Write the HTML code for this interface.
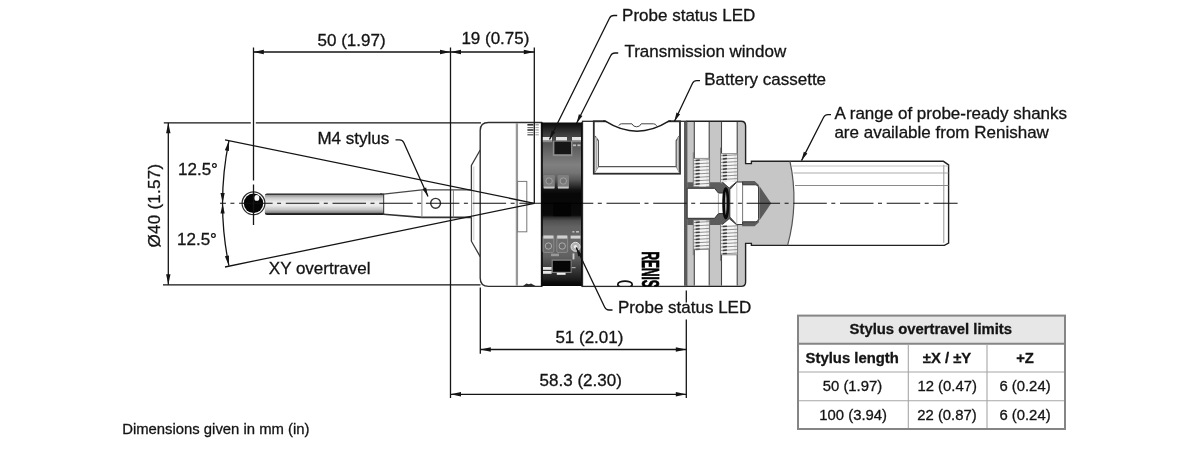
<!DOCTYPE html>
<html lang="en"><head><meta charset="utf-8"><title>Probe dimensions</title>
<style>
html,body{margin:0;padding:0;background:#fff;overflow:hidden}
svg{display:block;filter:blur(0.35px)}
text{font-family:"Liberation Sans",sans-serif;fill:#141414;stroke:#141414;stroke-width:0.3px}
</style></head>
<body>
<svg width="1200" height="456" viewBox="0 0 1200 456">
<rect width="1200" height="456" fill="#fff"/>
<defs>
<linearGradient id="gShaft" x1="0" y1="0" x2="0" y2="1">
 <stop offset="0" stop-color="#1e1e1e"/><stop offset="0.045" stop-color="#333"/><stop offset="0.085" stop-color="#9c9c9c"/><stop offset="0.22" stop-color="#cecece"/>
 <stop offset="0.4" stop-color="#ececec"/><stop offset="0.56" stop-color="#eaeaea"/><stop offset="0.75" stop-color="#c2c2c2"/><stop offset="0.88" stop-color="#8c8c8c"/><stop offset="0.925" stop-color="#2e2e2e"/><stop offset="1" stop-color="#181818"/>
</linearGradient>
<linearGradient id="gBand" x1="0" y1="0" x2="0" y2="1">
<stop offset="0.0000" stop-color="#0a0a0a"/><stop offset="0.0275" stop-color="#1c1c1c"/><stop offset="0.0702" stop-color="#3c3c3c"/><stop offset="0.1129" stop-color="#505050"/><stop offset="0.2044" stop-color="#6e6e6e"/><stop offset="0.2593" stop-color="#808080"/><stop offset="0.3081" stop-color="#747474"/><stop offset="0.3508" stop-color="#565656"/><stop offset="0.3874" stop-color="#2e2e2e"/><stop offset="0.4118" stop-color="#121212"/><stop offset="0.4362" stop-color="#070707"/><stop offset="0.5674" stop-color="#0a0a0a"/><stop offset="0.5796" stop-color="#2c2c2c"/><stop offset="0.6010" stop-color="#505050"/><stop offset="0.6376" stop-color="#626262"/><stop offset="0.7474" stop-color="#6a6a6a"/><stop offset="0.8206" stop-color="#606060"/><stop offset="0.8633" stop-color="#4c4c4c"/><stop offset="0.9121" stop-color="#323232"/><stop offset="0.9549" stop-color="#1e1e1e"/><stop offset="0.9793" stop-color="#0c0c0c"/><stop offset="1.0000" stop-color="#050505"/>
</linearGradient>
<clipPath id="cBody"><rect x="470" y="120" width="280" height="166.6"/></clipPath>
</defs>
<path d="M480.2,150 L471.4,165.4 V241.2 L480.2,256.6" fill="#fff" stroke="#3a3a3a" stroke-width="1.3"/>
<path d="M488.4,122.5 H541.5 V286.4 H488.7 Q480.2,286.4 480.2,277.9 V130.6 Q480.2,122.5 488.4,122.5 Z" fill="#fff" stroke="#303030" stroke-width="1.4"/>
<path d="M473.8,166.4 V240.2" fill="none" stroke="#bcbcbc" stroke-width="0.8"/>
<line x1="516.9" y1="123.1" x2="516.9" y2="285.79999999999995" stroke="#999" stroke-width="2.3" />
<rect x="517.6" y="181.4" width="9.2" height="50.4" fill="#fff" stroke="#777" stroke-width="1"/>
<line x1="527.4" y1="124.8" x2="533.4" y2="124.8" stroke="#333" stroke-width="1.7" />
<line x1="535.4" y1="124.8" x2="538.8" y2="124.8" stroke="#9a9a9a" stroke-width="1.36" />
<line x1="527.4" y1="127.6" x2="533.4" y2="127.6" stroke="#666" stroke-width="1.1" />
<line x1="535.4" y1="127.6" x2="538.8" y2="127.6" stroke="#9a9a9a" stroke-width="0.8800000000000001" />
<line x1="527.4" y1="130.0" x2="533.4" y2="130.0" stroke="#262626" stroke-width="1.5" />
<line x1="535.4" y1="130.0" x2="538.8" y2="130.0" stroke="#9a9a9a" stroke-width="1.2000000000000002" />
<line x1="527.4" y1="132.6" x2="533.4" y2="132.6" stroke="#8c8c8c" stroke-width="1.0" />
<line x1="535.4" y1="132.6" x2="538.8" y2="132.6" stroke="#9a9a9a" stroke-width="0.8" />
<line x1="527.4" y1="134.8" x2="533.4" y2="134.8" stroke="#555" stroke-width="1.3" />
<line x1="535.4" y1="134.8" x2="538.8" y2="134.8" stroke="#9a9a9a" stroke-width="1.04" />
<path d="M523,286.09999999999997 L526.4,283.4 L529,284.2 L531,283.59999999999997 L535.6,286.09999999999997 Z" fill="#2a2a2a"/>
<rect x="541.3" y="122.5" width="41.2" height="163.49999999999997" fill="url(#gBand)"/>
<line x1="542" y1="122.5" x2="542" y2="286.4" stroke="#0a0a0a" stroke-width="1.6" />
<line x1="581.8" y1="122.5" x2="581.8" y2="286.4" stroke="#0a0a0a" stroke-width="1.6" />
<rect x="542.8" y="137" width="9.200000000000045" height="3.6" fill="#e4e4e4"/>
<rect x="542.8" y="140.6" width="9.200000000000045" height="1.6" fill="#8a8a8a"/>
<rect x="556" y="137" width="11" height="3.6" fill="#e4e4e4"/>
<rect x="556" y="140.6" width="11" height="1.6" fill="#8a8a8a"/>
<rect x="572" y="137" width="9" height="3.6" fill="#e4e4e4"/>
<rect x="572" y="140.6" width="9" height="1.6" fill="#8a8a8a"/>
<rect x="552.8" y="140.8" width="19.6" height="15.4" fill="#8c8c8c"/>
<rect x="554.4" y="141.6" width="16.6" height="12.6" fill="#161616"/>
<rect x="573" y="144.4" width="3" height="1.8" fill="#bbb"/><rect x="577.4" y="144.4" width="3" height="1.8" fill="#bbb"/>
<rect x="543.4" y="175" width="11.4" height="13.4" rx="1.2" fill="#7e7e7e"/>
<circle cx="549.1" cy="181" r="3.2" fill="#747474" stroke="#a4a4a4" stroke-width="0.9"/>
<rect x="543.8" y="186.6" width="10.6" height="1.8" fill="#c6c6c6"/>
<rect x="557.6" y="175" width="11.4" height="13.4" rx="1.2" fill="#7e7e7e"/>
<circle cx="563.3000000000001" cy="181" r="3.2" fill="#747474" stroke="#a4a4a4" stroke-width="0.9"/>
<rect x="558.0" y="186.6" width="10.6" height="1.8" fill="#c6c6c6"/>
<rect x="553.4" y="202.8" width="17.4" height="13.4" fill="#030303"/>
<rect x="543" y="235.6" width="10.8" height="16.8" rx="1.2" fill="#6c6c6c" stroke="#9a9a9a" stroke-width="0.7"/>
<rect x="543.4" y="235.6" width="10" height="3" fill="#d0d0d0"/>
<circle cx="548.4" cy="246" r="3.2" fill="#6a6a6a" stroke="#b4b4b4" stroke-width="0.9"/>
<rect x="556.8" y="235.6" width="10.8" height="16.8" rx="1.2" fill="#6c6c6c" stroke="#9a9a9a" stroke-width="0.7"/>
<rect x="557.1999999999999" y="235.6" width="10" height="3" fill="#d0d0d0"/>
<circle cx="562.1999999999999" cy="246" r="3.2" fill="#6a6a6a" stroke="#b4b4b4" stroke-width="0.9"/>
<rect x="570.6" y="235.6" width="9.8" height="3" fill="#d4d4d4"/>
<rect x="572.4" y="231" width="2" height="1.6" fill="#bbb"/><rect x="576" y="231" width="3" height="1.6" fill="#bbb"/>
<circle cx="575.5" cy="246.8" r="4.5" fill="#b0b0b0" stroke="#e2e2e2" stroke-width="1"/>
<circle cx="575.5" cy="246.8" r="1.8" fill="#ececec"/>
<rect x="551" y="253.6" width="8" height="2.6" fill="#999"/>
<rect x="572.6" y="253.4" width="1.8" height="6" fill="#d0d0d0"/><rect x="571.6" y="267" width="4" height="1.2" fill="#aaa"/>
<rect x="551.6" y="259.4" width="20" height="13.6" fill="#808080"/>
<rect x="552.8" y="260.8" width="17.8" height="11" fill="#060606"/>
<rect x="543" y="267" width="8.6" height="2.8" fill="#e6e6e6"/><rect x="543" y="271" width="8.6" height="2.8" fill="#e6e6e6"/>
<rect x="556.8" y="272.8" width="8.8" height="2" fill="#f2f2f2"/>
<rect x="582.5" y="121.3" width="104" height="165.09999999999997" fill="#fff" stroke="#2a2a2a" stroke-width="1.3"/>
<rect x="593.8" y="121.3" width="86.2" height="52.4" fill="#fff" stroke="#2c2c2c" stroke-width="1.8"/>
<path d="M595,136 L598.4,140.8 V166.7 H676.2 V140.8 L679.2,136" fill="none" stroke="#555" stroke-width="1.25"/>
<path d="M594.5,173 L598.4,166.7 M679.5,173 L676.2,166.7" fill="none" stroke="#777" stroke-width="0.9"/>
<line x1="596.2" y1="137" x2="596.2" y2="170" stroke="#aaa" stroke-width="1.6" />
<line x1="678.2" y1="137" x2="678.2" y2="170" stroke="#aaa" stroke-width="1.6" />
<path d="M605.5,120.1 H668.5 V121.3 Q637,141.4 605.5,121.3 Z" fill="#fff"/>
<path d="M603,121.3 H605.8 Q637,141 668.3,121.3 H671" fill="none" stroke="#1a1a1a" stroke-width="1.5"/>
<path d="M618.8,125.6 Q619.6,123.8 621.5,123.8 H632 Q633.2,126.8 636.6,126.8 Q640,126.8 641.2,123.8 H653.5 Q655.6,123.8 656.6,125.8" fill="none" stroke="#444" stroke-width="1"/>
<g clip-path="url(#cBody)"><text transform="translate(642.0,251.4) rotate(90) scale(0.487,1)" font-size="24.4" font-weight="bold" style="fill:#000;stroke:#000;stroke-width:0.7px">RENIS</text>
<ellipse cx="625" cy="284.4" rx="7.2" ry="3.3" fill="none" stroke="#111" stroke-width="1.7"/></g>
<path d="M786,161.3 H948.6 V245.4 H786 Z" fill="#fff"/>
<path d="M686.3,121.3 H741 Q745.6,121.3 745.6,126 V163.6 H751.4 V161.3 H790 Q799,203.3 787.6,245.4 H751.4 V243.4 H745.6 V281.9 Q745.6,286.4 741,286.4 H686.3 Z" fill="#c6c6c6"/>
<rect x="684" y="121.89999999999999" width="3.4" height="163.89999999999998" fill="#5a5a5a"/>
<path d="M687.2,182.2 H742.2 V180.9 H754.6 L758.9,185 V222.2 L754.6,226.3 H742.2 V225 H687.2 Z" fill="#5c5c5c"/>
<rect x="694.3" y="122.1" width="14.900000000000091" height="60.5" fill="#fff"/>
<line x1="694.3" y1="122.1" x2="694.3" y2="182.6" stroke="#454545" stroke-width="1.1" />
<line x1="709.2" y1="122.1" x2="709.2" y2="182.6" stroke="#454545" stroke-width="1.1" />
<rect x="694.3" y="224.6" width="14.900000000000091" height="60.99999999999997" fill="#fff"/>
<line x1="694.3" y1="224.6" x2="694.3" y2="285.59999999999997" stroke="#454545" stroke-width="1.1" />
<line x1="709.2" y1="224.6" x2="709.2" y2="285.59999999999997" stroke="#454545" stroke-width="1.1" />
<rect x="693.3" y="158.4" width="16.30000000000009" height="28.0" fill="#e9e9e9"/>
<rect x="699.3" y="158.4" width="6.900000000000091" height="28.0" fill="#f6f6f6"/>
<path d="M693.6999999999999,160.50 L709.4000000000001,159.60" stroke="#8c8c8c" stroke-width="0.95" fill="none"/>
<path d="M695.6999999999999,160.40 L699.6999999999999,160.00" stroke="#3c3c3c" stroke-width="1.5" fill="none"/>
<path d="M693.6999999999999,163.90 L709.4000000000001,163.00" stroke="#8c8c8c" stroke-width="0.95" fill="none"/>
<path d="M695.6999999999999,163.80 L699.6999999999999,163.40" stroke="#3c3c3c" stroke-width="1.5" fill="none"/>
<path d="M693.6999999999999,167.30 L709.4000000000001,166.40" stroke="#8c8c8c" stroke-width="0.95" fill="none"/>
<path d="M695.6999999999999,167.20 L699.6999999999999,166.80" stroke="#3c3c3c" stroke-width="1.5" fill="none"/>
<path d="M693.6999999999999,170.70 L709.4000000000001,169.80" stroke="#8c8c8c" stroke-width="0.95" fill="none"/>
<path d="M695.6999999999999,170.60 L699.6999999999999,170.20" stroke="#3c3c3c" stroke-width="1.5" fill="none"/>
<path d="M693.6999999999999,174.10 L709.4000000000001,173.20" stroke="#8c8c8c" stroke-width="0.95" fill="none"/>
<path d="M695.6999999999999,174.00 L699.6999999999999,173.60" stroke="#3c3c3c" stroke-width="1.5" fill="none"/>
<path d="M693.6999999999999,177.50 L709.4000000000001,176.60" stroke="#8c8c8c" stroke-width="0.95" fill="none"/>
<path d="M695.6999999999999,177.40 L699.6999999999999,177.00" stroke="#3c3c3c" stroke-width="1.5" fill="none"/>
<path d="M693.6999999999999,180.90 L709.4000000000001,180.00" stroke="#8c8c8c" stroke-width="0.95" fill="none"/>
<path d="M695.6999999999999,180.80 L699.6999999999999,180.40" stroke="#3c3c3c" stroke-width="1.5" fill="none"/>
<path d="M693.6999999999999,184.30 L709.4000000000001,183.40" stroke="#8c8c8c" stroke-width="0.95" fill="none"/>
<path d="M695.6999999999999,184.20 L699.6999999999999,183.80" stroke="#3c3c3c" stroke-width="1.5" fill="none"/>
<line x1="693.3" y1="152.4" x2="693.3" y2="186.4" stroke="#6a6a6a" stroke-width="0.8" />
<line x1="709.6" y1="158.4" x2="709.6" y2="186.4" stroke="#6a6a6a" stroke-width="0.8" />
<line x1="693.3" y1="158.4" x2="709.6" y2="158.4" stroke="#777" stroke-width="0.8" />
<rect x="693.3" y="220.4" width="16.30000000000009" height="28.799999999999983" fill="#e9e9e9"/>
<rect x="699.3" y="220.4" width="6.900000000000091" height="28.799999999999983" fill="#f6f6f6"/>
<path d="M693.6999999999999,222.50 L709.4000000000001,221.60" stroke="#8c8c8c" stroke-width="0.95" fill="none"/>
<path d="M695.6999999999999,222.40 L699.6999999999999,222.00" stroke="#3c3c3c" stroke-width="1.5" fill="none"/>
<path d="M693.6999999999999,225.90 L709.4000000000001,225.00" stroke="#8c8c8c" stroke-width="0.95" fill="none"/>
<path d="M695.6999999999999,225.80 L699.6999999999999,225.40" stroke="#3c3c3c" stroke-width="1.5" fill="none"/>
<path d="M693.6999999999999,229.30 L709.4000000000001,228.40" stroke="#8c8c8c" stroke-width="0.95" fill="none"/>
<path d="M695.6999999999999,229.20 L699.6999999999999,228.80" stroke="#3c3c3c" stroke-width="1.5" fill="none"/>
<path d="M693.6999999999999,232.70 L709.4000000000001,231.80" stroke="#8c8c8c" stroke-width="0.95" fill="none"/>
<path d="M695.6999999999999,232.60 L699.6999999999999,232.20" stroke="#3c3c3c" stroke-width="1.5" fill="none"/>
<path d="M693.6999999999999,236.10 L709.4000000000001,235.20" stroke="#8c8c8c" stroke-width="0.95" fill="none"/>
<path d="M695.6999999999999,236.00 L699.6999999999999,235.60" stroke="#3c3c3c" stroke-width="1.5" fill="none"/>
<path d="M693.6999999999999,239.50 L709.4000000000001,238.60" stroke="#8c8c8c" stroke-width="0.95" fill="none"/>
<path d="M695.6999999999999,239.40 L699.6999999999999,239.00" stroke="#3c3c3c" stroke-width="1.5" fill="none"/>
<path d="M693.6999999999999,242.90 L709.4000000000001,242.00" stroke="#8c8c8c" stroke-width="0.95" fill="none"/>
<path d="M695.6999999999999,242.80 L699.6999999999999,242.40" stroke="#3c3c3c" stroke-width="1.5" fill="none"/>
<path d="M693.6999999999999,246.30 L709.4000000000001,245.40" stroke="#8c8c8c" stroke-width="0.95" fill="none"/>
<path d="M695.6999999999999,246.20 L699.6999999999999,245.80" stroke="#3c3c3c" stroke-width="1.5" fill="none"/>
<path d="M693.6999999999999,249.70 L709.4000000000001,248.80" stroke="#8c8c8c" stroke-width="0.95" fill="none"/>
<path d="M695.6999999999999,249.60 L699.6999999999999,249.20" stroke="#3c3c3c" stroke-width="1.5" fill="none"/>
<line x1="693.3" y1="220.4" x2="693.3" y2="255.2" stroke="#6a6a6a" stroke-width="0.8" />
<line x1="709.6" y1="220.4" x2="709.6" y2="249.2" stroke="#6a6a6a" stroke-width="0.8" />
<line x1="693.3" y1="249.2" x2="709.6" y2="249.2" stroke="#777" stroke-width="0.8" />
<rect x="721.5" y="122.1" width="15.700000000000045" height="60.5" fill="#fff"/>
<line x1="721.5" y1="122.1" x2="721.5" y2="182.6" stroke="#454545" stroke-width="1.1" />
<line x1="737.2" y1="122.1" x2="737.2" y2="182.6" stroke="#454545" stroke-width="1.1" />
<rect x="721.5" y="224.6" width="15.700000000000045" height="60.99999999999997" fill="#fff"/>
<line x1="721.5" y1="224.6" x2="721.5" y2="285.59999999999997" stroke="#454545" stroke-width="1.1" />
<line x1="737.2" y1="224.6" x2="737.2" y2="285.59999999999997" stroke="#454545" stroke-width="1.1" />
<rect x="720.5" y="153.6" width="17.100000000000044" height="28.80000000000001" fill="#e9e9e9"/>
<rect x="726.5" y="153.6" width="7.7000000000000455" height="28.80000000000001" fill="#f6f6f6"/>
<path d="M720.9,155.70 L737.4000000000001,154.80" stroke="#8c8c8c" stroke-width="0.95" fill="none"/>
<path d="M722.9,155.60 L726.9,155.20" stroke="#3c3c3c" stroke-width="1.5" fill="none"/>
<path d="M720.9,159.10 L737.4000000000001,158.20" stroke="#8c8c8c" stroke-width="0.95" fill="none"/>
<path d="M722.9,159.00 L726.9,158.60" stroke="#3c3c3c" stroke-width="1.5" fill="none"/>
<path d="M720.9,162.50 L737.4000000000001,161.60" stroke="#8c8c8c" stroke-width="0.95" fill="none"/>
<path d="M722.9,162.40 L726.9,162.00" stroke="#3c3c3c" stroke-width="1.5" fill="none"/>
<path d="M720.9,165.90 L737.4000000000001,165.00" stroke="#8c8c8c" stroke-width="0.95" fill="none"/>
<path d="M722.9,165.80 L726.9,165.40" stroke="#3c3c3c" stroke-width="1.5" fill="none"/>
<path d="M720.9,169.30 L737.4000000000001,168.40" stroke="#8c8c8c" stroke-width="0.95" fill="none"/>
<path d="M722.9,169.20 L726.9,168.80" stroke="#3c3c3c" stroke-width="1.5" fill="none"/>
<path d="M720.9,172.70 L737.4000000000001,171.80" stroke="#8c8c8c" stroke-width="0.95" fill="none"/>
<path d="M722.9,172.60 L726.9,172.20" stroke="#3c3c3c" stroke-width="1.5" fill="none"/>
<path d="M720.9,176.10 L737.4000000000001,175.20" stroke="#8c8c8c" stroke-width="0.95" fill="none"/>
<path d="M722.9,176.00 L726.9,175.60" stroke="#3c3c3c" stroke-width="1.5" fill="none"/>
<path d="M720.9,179.50 L737.4000000000001,178.60" stroke="#8c8c8c" stroke-width="0.95" fill="none"/>
<path d="M722.9,179.40 L726.9,179.00" stroke="#3c3c3c" stroke-width="1.5" fill="none"/>
<path d="M720.9,182.90 L737.4000000000001,182.00" stroke="#8c8c8c" stroke-width="0.95" fill="none"/>
<path d="M722.9,182.80 L726.9,182.40" stroke="#3c3c3c" stroke-width="1.5" fill="none"/>
<line x1="720.5" y1="147.6" x2="720.5" y2="182.4" stroke="#6a6a6a" stroke-width="0.8" />
<line x1="737.6" y1="153.6" x2="737.6" y2="182.4" stroke="#6a6a6a" stroke-width="0.8" />
<line x1="720.5" y1="153.6" x2="737.6" y2="153.6" stroke="#777" stroke-width="0.8" />
<rect x="720.5" y="224.6" width="17.100000000000044" height="30.200000000000017" fill="#e9e9e9"/>
<rect x="726.5" y="224.6" width="7.7000000000000455" height="30.200000000000017" fill="#f6f6f6"/>
<path d="M720.9,226.70 L737.4000000000001,225.80" stroke="#8c8c8c" stroke-width="0.95" fill="none"/>
<path d="M722.9,226.60 L726.9,226.20" stroke="#3c3c3c" stroke-width="1.5" fill="none"/>
<path d="M720.9,230.10 L737.4000000000001,229.20" stroke="#8c8c8c" stroke-width="0.95" fill="none"/>
<path d="M722.9,230.00 L726.9,229.60" stroke="#3c3c3c" stroke-width="1.5" fill="none"/>
<path d="M720.9,233.50 L737.4000000000001,232.60" stroke="#8c8c8c" stroke-width="0.95" fill="none"/>
<path d="M722.9,233.40 L726.9,233.00" stroke="#3c3c3c" stroke-width="1.5" fill="none"/>
<path d="M720.9,236.90 L737.4000000000001,236.00" stroke="#8c8c8c" stroke-width="0.95" fill="none"/>
<path d="M722.9,236.80 L726.9,236.40" stroke="#3c3c3c" stroke-width="1.5" fill="none"/>
<path d="M720.9,240.30 L737.4000000000001,239.40" stroke="#8c8c8c" stroke-width="0.95" fill="none"/>
<path d="M722.9,240.20 L726.9,239.80" stroke="#3c3c3c" stroke-width="1.5" fill="none"/>
<path d="M720.9,243.70 L737.4000000000001,242.80" stroke="#8c8c8c" stroke-width="0.95" fill="none"/>
<path d="M722.9,243.60 L726.9,243.20" stroke="#3c3c3c" stroke-width="1.5" fill="none"/>
<path d="M720.9,247.10 L737.4000000000001,246.20" stroke="#8c8c8c" stroke-width="0.95" fill="none"/>
<path d="M722.9,247.00 L726.9,246.60" stroke="#3c3c3c" stroke-width="1.5" fill="none"/>
<path d="M720.9,250.50 L737.4000000000001,249.60" stroke="#8c8c8c" stroke-width="0.95" fill="none"/>
<path d="M722.9,250.40 L726.9,250.00" stroke="#3c3c3c" stroke-width="1.5" fill="none"/>
<path d="M720.9,253.90 L737.4000000000001,253.00" stroke="#8c8c8c" stroke-width="0.95" fill="none"/>
<path d="M722.9,253.80 L726.9,253.40" stroke="#3c3c3c" stroke-width="1.5" fill="none"/>
<line x1="720.5" y1="224.6" x2="720.5" y2="260.8" stroke="#6a6a6a" stroke-width="0.8" />
<line x1="737.6" y1="224.6" x2="737.6" y2="254.8" stroke="#6a6a6a" stroke-width="0.8" />
<line x1="720.5" y1="254.8" x2="737.6" y2="254.8" stroke="#777" stroke-width="0.8" />
<path d="M686.3,121.3 H741 Q745.6,121.3 745.6,126 V163.6 H751.4 V161.3 H943.4 L948.6,164.8 V243 L944.4,245.4 H751.4 V243.4 H745.6 V281.9 Q745.6,286.4 741,286.4 H686.3" fill="none" stroke="#222" stroke-width="1.4"/>
<path d="M790,161.3 Q799,203.3 787.6,245.4" fill="none" stroke="#555" stroke-width="1.2"/>
<line x1="943.8" y1="164.8" x2="943.8" y2="242.9" stroke="#8a8a8a" stroke-width="0.9" />
<line x1="792" y1="166.0" x2="948.4" y2="166.0" stroke="#b4b4b4" stroke-width="0.8" />
<line x1="793.5" y1="173.0" x2="948.4" y2="173.0" stroke="#a2a2a2" stroke-width="0.9" />
<line x1="795" y1="185.5" x2="948.4" y2="185.5" stroke="#8a8a8a" stroke-width="1.2" />
<path d="M687.2,188.3 H714.6 L718.4,193 H723.4 V213.6 H718.4 L714.6,218.3 H687.2 Z" fill="#fff" stroke="#333" stroke-width="1"/>
<line x1="718.4" y1="193.4" x2="718.4" y2="213.2" stroke="#999" stroke-width="0.8" />
<path d="M722.2,181.6 H736.8 L729.2,187.9 Z" fill="#fff"/>
<path d="M722.2,225 H736.8 L729.2,218.7 Z" fill="#fff"/>
<path d="M722.2,182 L729.2,188 L736.6,181.8 M722.2,224.6 L729.2,218.6 L736.6,224.8" fill="none" stroke="#3a3a3a" stroke-width="0.9"/>
<path d="M729.8,189.6 L736.8,182 H742.6 V184.8 H755.4 Q758.6,184.8 758.6,188 V218.6 Q758.6,221.8 755.4,221.8 H742.6 V224.6 H736.8 L729.8,217 Z" fill="#fff" stroke="#333" stroke-width="1"/>
<line x1="736.8" y1="182.6" x2="736.8" y2="224" stroke="#b4b4b4" stroke-width="0.8" />
<line x1="742.6" y1="184.8" x2="742.6" y2="221.8" stroke="#666" stroke-width="0.9" />
<path d="M759.4,186 L771.2,203.3 L759.4,220.6 Z" fill="#5a5a5a"/>
<ellipse cx="725.8" cy="203.3" rx="2.2" ry="14.8" fill="#a4a4a4" stroke="#0a0a0a" stroke-width="2.6"/>
<path d="M383.5,194.2 L421.9,189.8 H471.4 V217.4 H421.9 L383.5,214.2 Z" fill="#fff" stroke="none"/>
<path d="M383.5,194.2 L421.9,189.8 H471.4" fill="none" stroke="#484848" stroke-width="1.3"/>
<path d="M383.5,214.2 L421.9,217.4 H471.4" fill="none" stroke="#333" stroke-width="1.6"/>
<line x1="421.9" y1="189.8" x2="421.9" y2="217.4" stroke="#777" stroke-width="0.9" />
<line x1="453.4" y1="189.8" x2="453.4" y2="217.4" stroke="#777" stroke-width="0.9" />
<circle cx="435.6" cy="203.3" r="4.9" fill="#fff" stroke="#333" stroke-width="1.4"/>
<rect x="264.8" y="193.5" width="119" height="21.5" rx="2.2" fill="url(#gShaft)"/>
<rect x="380" y="193.5" width="3.8" height="21.5" fill="url(#gShaft)"/>
<line x1="383.7" y1="193.8" x2="383.7" y2="214.6" stroke="#333" stroke-width="1" />
<circle cx="253.5" cy="203.3" r="11.4" fill="#fff" stroke="#2a2a2a" stroke-width="1.2"/>
<circle cx="253.5" cy="203.3" r="9.7" fill="#050505"/>
<ellipse cx="256.8" cy="197.9" rx="2.5" ry="2.9" fill="#fafafa"/>
<path d="M220,203.3 H541.5" fill="none" stroke="#111" stroke-width="1.1" stroke-dasharray="33.5 4.5 4 4.7" stroke-dashoffset="27.6"/>
<path d="M541.5,203.3 H582.5" fill="none" stroke="#000" stroke-width="1.1"/>
<path d="M582.5,203.3 H957.6" fill="none" stroke="#111" stroke-width="1.1" stroke-dasharray="33.5 4.5 4 4.7" stroke-dashoffset="22.7"/>
<line x1="534.4" y1="203.3" x2="225" y2="139.9" stroke="#141414" stroke-width="1.3" />
<line x1="534.4" y1="203.3" x2="225" y2="267" stroke="#141414" stroke-width="1.3" />
<path d="M228.91,140.87 A311.8,311.8 0 0 0 228.91,265.73" fill="none" stroke="#141414" stroke-width="1.3"/>
<polygon points="228.91,140.87 228.98,151.09 224.86,150.25" fill="#141414"/>
<polygon points="228.91,265.73 224.86,256.35 228.98,255.51" fill="#141414"/>
<polygon points="222.60,203.00 220.50,193.00 224.70,193.00" fill="#141414"/>
<polygon points="222.60,203.60 224.70,213.60 220.50,213.60" fill="#141414"/>
<line x1="253.5" y1="47.5" x2="253.5" y2="180.5" stroke="#141414" stroke-width="1.3" />
<line x1="253.5" y1="184.5" x2="253.5" y2="225" stroke="#141414" stroke-width="1.3" />
<line x1="450.5" y1="47.5" x2="450.5" y2="398" stroke="#141414" stroke-width="1.3" />
<line x1="534.3" y1="47.5" x2="534.3" y2="203" stroke="#141414" stroke-width="1.3" />
<line x1="253.3" y1="52" x2="534.3" y2="52" stroke="#141414" stroke-width="1.3" />
<polygon points="253.30,52.00 263.80,49.80 263.80,54.20" fill="#141414"/>
<polygon points="450.50,52.00 440.00,54.20 440.00,49.80" fill="#141414"/>
<polygon points="450.50,52.00 461.00,49.80 461.00,54.20" fill="#141414"/>
<polygon points="534.30,52.00 523.80,54.20 523.80,49.80" fill="#141414"/>
<line x1="163.8" y1="122.8" x2="250.8" y2="122.8" stroke="#141414" stroke-width="1.3" />
<line x1="255.8" y1="122.8" x2="481" y2="122.8" stroke="#141414" stroke-width="1.3" />
<line x1="163" y1="284.8" x2="480.5" y2="284.8" stroke="#141414" stroke-width="1.3" />
<line x1="168.3" y1="122.8" x2="168.3" y2="284.8" stroke="#141414" stroke-width="1.3" />
<polygon points="168.30,122.80 170.50,133.30 166.10,133.30" fill="#141414"/>
<polygon points="168.30,284.80 166.10,274.30 170.50,274.30" fill="#141414"/>
<line x1="480.3" y1="287.5" x2="480.3" y2="353.8" stroke="#141414" stroke-width="1.3" />
<line x1="686.3" y1="290.5" x2="686.3" y2="302.6" stroke="#141414" stroke-width="1.3" />
<line x1="686.3" y1="319.6" x2="686.3" y2="398" stroke="#141414" stroke-width="1.3" />
<line x1="480.3" y1="349.5" x2="686.3" y2="349.5" stroke="#141414" stroke-width="1.3" />
<polygon points="480.30,349.50 490.80,347.30 490.80,351.70" fill="#141414"/>
<polygon points="686.30,349.50 675.80,351.70 675.80,347.30" fill="#141414"/>
<line x1="450.5" y1="394.3" x2="686.3" y2="394.3" stroke="#141414" stroke-width="1.3" />
<polygon points="450.50,394.30 461.00,392.10 461.00,396.50" fill="#141414"/>
<polygon points="686.30,394.30 675.80,396.50 675.80,392.10" fill="#141414"/>
<path d="M617.2,15.5 L613.80,15.50 Q610.8,15.5 609.47,18.19 L549.5,139.5" fill="none" stroke="#141414" stroke-width="1.3"/>
<polygon points="549.50,139.50 551.70,130.55 555.28,132.32" fill="#141414"/>
<path d="M618.2,53 L615.00,53.00 Q612,53 610.65,55.68 L576.6,123.2" fill="none" stroke="#141414" stroke-width="1.3"/>
<polygon points="576.60,123.20 578.87,114.26 582.44,116.06" fill="#141414"/>
<path d="M700,80.6 L696.80,80.60 Q693.8,80.6 692.51,83.31 L674.4,121.5" fill="none" stroke="#141414" stroke-width="1.3"/>
<polygon points="674.40,121.50 676.45,112.51 680.06,114.23" fill="#141414"/>
<path d="M831,114.6 L828.00,114.60 Q825,114.6 823.64,117.27 L801.5,160.6" fill="none" stroke="#141414" stroke-width="1.3"/>
<polygon points="801.50,160.60 803.81,151.68 807.38,153.50" fill="#141414"/>
<path d="M395.5,139.8 L399.50,139.80 Q402.5,139.8 403.73,142.54 L428,196.5" fill="none" stroke="#141414" stroke-width="1.3"/>
<polygon points="428.00,196.50 422.48,189.11 426.13,187.47" fill="#141414"/>
<path d="M612.5,310 L609.00,310.00 Q606,310 604.71,307.29 L576.2,247.5" fill="none" stroke="#141414" stroke-width="1.3"/>
<polygon points="576.20,247.50 581.88,254.76 578.27,256.48" fill="#141414"/>
<text x="351.6" y="45.6" font-size="17.0" text-anchor="middle" font-weight="normal" >50 (1.97)</text>
<text x="495.4" y="43.6" font-size="17.0" text-anchor="middle" font-weight="normal" >19 (0.75)</text>
<text x="622.1" y="20.8" font-size="17.0" text-anchor="start" font-weight="normal" >Probe status LED</text>
<text x="624.4" y="57" font-size="17.0" text-anchor="start" font-weight="normal" >Transmission window</text>
<text x="704.2" y="84.8" font-size="17.0" text-anchor="start" font-weight="normal" >Battery cassette</text>
<text x="834.6" y="118.8" font-size="17.0" text-anchor="start" font-weight="normal" >A range of probe-ready shanks</text>
<text x="834.4" y="137.6" font-size="17.0" text-anchor="start" font-weight="normal" >are available from Renishaw</text>
<text x="317.4" y="144" font-size="17.0" text-anchor="start" font-weight="normal" >M4 stylus</text>
<text x="178.0" y="174.8" font-size="17.0" text-anchor="start" font-weight="normal" >12.5°</text>
<text x="177.0" y="245" font-size="17.0" text-anchor="start" font-weight="normal" >12.5°</text>
<text x="268.8" y="273.8" font-size="17.0" text-anchor="start" font-weight="normal" >XY overtravel</text>
<text transform="translate(160.2,247.4) rotate(-90)" font-size="17" letter-spacing="0.25">Ø40 (1.57)</text>
<text x="618.0" y="313" font-size="17.0" text-anchor="start" font-weight="normal" >Probe status LED</text>
<text x="589.4" y="342.6" font-size="17.0" text-anchor="middle" font-weight="normal" >51 (2.01)</text>
<text x="580.7" y="386.4" font-size="17.0" text-anchor="middle" font-weight="normal" >58.3 (2.30)</text>
<text x="122.2" y="434.0" font-size="14.85" text-anchor="start" font-weight="normal" >Dimensions given in mm (in)</text>
<rect x="798" y="315.6" width="267" height="28.2" fill="#e7e7e7"/>
<rect x="798" y="315.6" width="267" height="113.4" fill="none" stroke="#858585" stroke-width="2"/>
<line x1="798" y1="343.8" x2="1065" y2="343.8" stroke="#858585" stroke-width="1.9" />
<line x1="799" y1="372" x2="1064" y2="372" stroke="#a6a6a6" stroke-width="1.1" />
<line x1="799" y1="400.7" x2="1064" y2="400.7" stroke="#a6a6a6" stroke-width="1.1" />
<line x1="908.3" y1="344.6" x2="908.3" y2="428" stroke="#a6a6a6" stroke-width="1.1" />
<line x1="987" y1="344.6" x2="987" y2="428" stroke="#a6a6a6" stroke-width="1.1" />
<text x="930.8" y="333.8" font-size="14.85" text-anchor="middle" font-weight="bold" >Stylus overtravel limits</text>
<text x="852.2" y="362.6" font-size="14.85" text-anchor="middle" font-weight="bold" >Stylus length</text>
<text x="947" y="362.6" font-size="14.85" text-anchor="middle" font-weight="bold" >±X / ±Y</text>
<text x="1025" y="362.6" font-size="14.85" text-anchor="middle" font-weight="bold" >+Z</text>
<text x="852.5" y="391" font-size="14.85" text-anchor="middle" font-weight="normal" >50 (1.97)</text>
<text x="947.2" y="391" font-size="14.85" text-anchor="middle" font-weight="normal" >12 (0.47)</text>
<text x="1025" y="391" font-size="14.85" text-anchor="middle" font-weight="normal" >6 (0.24)</text>
<text x="853.2" y="419.6" font-size="14.85" text-anchor="middle" font-weight="normal" >100 (3.94)</text>
<text x="947" y="419.6" font-size="14.85" text-anchor="middle" font-weight="normal" >22 (0.87)</text>
<text x="1025" y="419.6" font-size="14.85" text-anchor="middle" font-weight="normal" >6 (0.24)</text>
</svg>
</body></html>
